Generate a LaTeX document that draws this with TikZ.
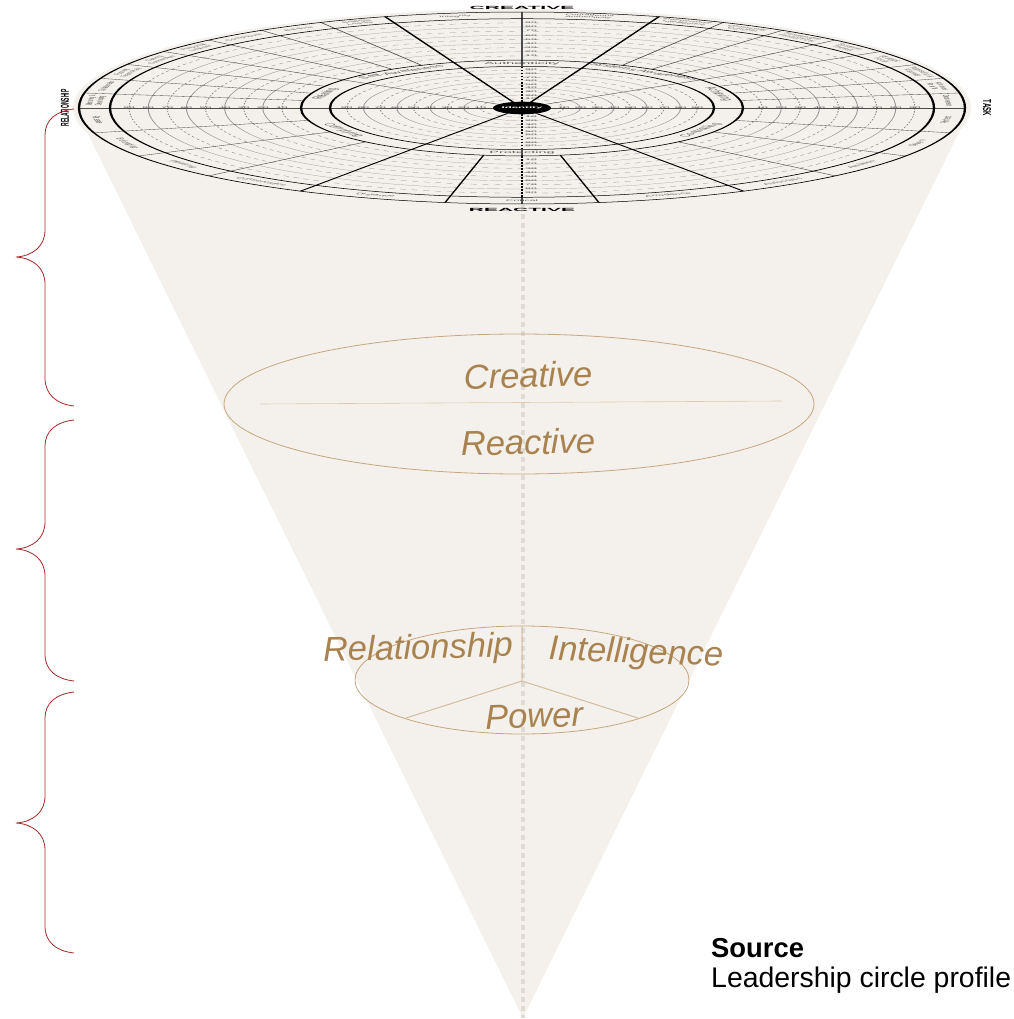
\documentclass[tikz,border=0pt]{standalone}
\usepackage{fontspec}
\usepackage{graphicx}
\setmainfont{Liberation Sans}
\definecolor{conefill}{HTML}{F4F1EC}
\definecolor{dotline}{HTML}{E0DBD2}
\definecolor{tanline}{HTML}{C6A67F}
\definecolor{tantext}{HTML}{A88350}
\definecolor{bracered}{HTML}{A52A2A}
\definecolor{wheelgray}{HTML}{555555}
\newcommand{\bigfont}{\fontsize{34.5}{34.5}\selectfont\itshape}
\tikzset{
    ringmain/.style={draw=black, line width=2.3pt},
    ringsolid/.style={draw=black!42, line width=0.9pt},
    ringdash/.style={draw=black!50, line width=0.9pt, dash pattern=on 6pt off 6pt},
    spokethin/.style={draw=black!70, line width=1.5pt},
    spokemid/.style={draw=black, line width=1.7pt},
    spokethick/.style={draw=black, line width=2.3pt},
    seclabel/.style={text=wheelgray, font=\fontsize{9}{9.5}\selectfont, align=center, inner sep=0pt},
    bandlabel/.style={text=wheelgray, font=\fontsize{14.5}{14.5}\selectfont, inner sep=0pt},
    numlabel/.style={text=black!70, font=\fontsize{10.5}{10.5}\selectfont, inner sep=0pt},
    bigtext/.style={text=tantext, font=\bigfont, inner sep=0pt},
    tanring/.style={draw=tanline, line width=0.8pt},
    redbrace/.style={draw=bracered, line width=0.8pt}
}
\begin{document}
\begin{tikzpicture}[x=1pt, y=-1pt]
    \useasboundingbox (0,0) rectangle (1013,1019);

    % cone and the halo behind the wheel
    \fill[conefill] (86,130) -- (523,1018) -- (960,130) -- cycle;
    \fill[conefill] (522,108) ellipse [x radius=449, y radius=99];
    \draw[dotline, line width=4pt, dash pattern=on 5pt off 4pt] (523,205) -- (523,1018);

    % wheel, drawn as a true circle and squashed as a whole
    \begin{scope}[transform canvas={shift={(522,-108)}, yscale=0.2167}, y=1pt]
        \foreach \n in {1,3,5,7,9} {
            \draw[ringdash] (0,0) circle [radius=25+16.7*\n];
            \draw[ringdash] (0,0) circle [radius=221+19.1*\n];
        }
        \foreach \n in {2,4,6,8} {
            \draw[ringsolid] (0,0) circle [radius=25+16.7*\n];
            \draw[ringsolid] (0,0) circle [radius=221+19.1*\n];
        }
        \foreach \ang in {117,126,135,144,153,162,171,63,54,45,36,27,18,9,195,210,225,315,330,345}
            \draw[spokethin] (\ang:221) -- (\ang:443);
        \foreach \ang in {36,144}
            \draw[spokethin] (\ang:29) -- (\ang:221);
        \foreach \ang in {72,108,240,300}
            \draw[spokethick] (\ang:29) -- (\ang:443);
        \foreach \ang in {260,280}
            \draw[spokemid] (\ang:221) -- (\ang:443);
        \draw[spokethin] (-443,0) -- (443,0);
        \draw[spokethin] (90:221) -- (90:443);
        \draw[spokethin] (270:192) -- (270:221);
        \draw[spokethin] (90:192) -- (90:221);
        \draw[spokethin] (270:412) -- (270:443);
        \foreach \ang in {90,270}
            \draw[black, line width=2.4pt, dash pattern=on 8pt off 6pt] (\ang:29) -- (\ang:192);
        \draw[black, line width=2.4pt, dash pattern=on 8pt off 6pt] (270:221) -- (270:412);

        \foreach \rad in {192,221,412,443}
            \draw[ringmain] (0,0) circle [radius=\rad];
        \fill[black] (0,0) circle [radius=29];
        \node[text=white, font=\fontsize{11.5}{11.5}\selectfont\bfseries, inner sep=0pt] (identity) at (0,0) {Identity};

        % scale numbers
        \foreach \n [evaluate=\n as \ra using 25+16.7*\n/10, evaluate=\n as \rb using 221+19.1*\n/10] in {10,20,...,90} {
            \node[numlabel, anchor=west] (nia\n) at (3,\ra) {\n};
            \node[numlabel, anchor=west] (nib\n) at (3,-\ra) {\n};
            \node[numlabel] (nil\n) at (-\ra,0) {\n};
            \node[numlabel] (nir\n) at (\ra,0) {\n};
            \node[numlabel, anchor=west] (noa\n) at (3,\rb) {\n};
            \node[numlabel, anchor=west] (nob\n) at (3,-\rb) {\n};
            \node[numlabel] (nol\n) at (-\rb,0) {\n};
            \node[numlabel] (nor\n) at (\rb,0) {\n};
        }

        % outer band
        \foreach \ang/\lab [count=\i] in {99/Integrity, 81/Courageous\\Authenticity, 67.5/Interpersonal\\Intelligence,
            58.5/Community\\Concern, 49.5/Sustainable\\Productivity, 40.5/Systems\\Thinker, 31.5/Strategic\\Focus,
            22.5/Purposeful \&\\Visionary, 13.5/Achieves\\Results, 4.5/Decisiveness, 112.5/Selfless\\Leader,
            121.5/Balance, 130.5/Composure, 139.5/Personal\\Learner, 148.5/Caring\\Connection,
            157.5/Fosters\\Team Play, 166.5/Collaborator, 175.5/Mentoring \&\\Developing}
            \node[seclabel, rotate=\ang-90] (secu\i) at (\ang:427.5) {\lab};
        \foreach \ang/\lab [count=\i] in {187.5/Passive, 202.5/Belonging, 217.5/Pleasing, 232.5/Conservative,
            250/Distance, 270/Critical, 290/Arrogance, 307.5/Autocratic, 322.5/Ambition, 337.5/Driven, 352.5/Perfect}
            \node[seclabel, font=\fontsize{10.5}{10.5}\selectfont, rotate=\ang+90] (secl\i) at (\ang:427.5) {\lab};

        % inner band
        \foreach \ang/\lab [count=\i] in {90/Authenticity, 54/Systems Awareness, 18/Achieving, 162/Relating, 126/Self-Awareness}
            \node[bandlabel, rotate=\ang-90] (bandu\i) at (\ang:206.5) {\lab};
        \foreach \ang/\lab [count=\i] in {210/Complying, 270/Protecting, 330/Controlling}
            \node[bandlabel, rotate=\ang+90] (bandl\i) at (\ang:206.5) {\lab};

        \node[font=\fontsize{21}{21}\selectfont\bfseries, inner sep=0pt] (creative) at (0,461) {CREATIVE};
        \node[font=\fontsize{21}{21}\selectfont\bfseries, inner sep=0pt] (reactive) at (0,-472) {REACTIVE};
        \node[font=\bfseries, inner sep=0pt, rotate=90] (relationship) at (-457,0) {\resizebox{170pt}{8pt}{RELATIONSHIP}};
        \node[font=\bfseries, inner sep=0pt, rotate=-90] (task) at (465,0) {\resizebox{74pt}{8pt}{TASK}};
    \end{scope}

    % rings inside the cone
    \draw[tanring] (519,404) ellipse [x radius=295, y radius=70];
    \draw[tanline!60, line width=0.6pt] (260,404) -- (782,401);
    \node[bigtext, rotate=1.5] (creativetxt) at (528,375) {Creative};
    \node[bigtext, rotate=1] (reactivetxt) at (528,442) {Reactive};

    \draw[tanring] (522,680) ellipse [x radius=167, y radius=54];
    \coordinate (hub) at (522,681);
    \draw[tanline!75, line width=1pt] (522,626) -- (hub) -- (406,718);
    \draw[tanline!75, line width=1pt] (hub) -- (638,718);
    \node[bigtext, rotate=1.5] (relationtxt) at (418,650) {Relationship};
    \node[bigtext, rotate=-2] (intelltxt) at (636,654) {Intelligence};
    \node[bigtext, rotate=2] (powertxt) at (534,716) {Power};

    % braces
    \draw[redbrace] (74,109) .. controls (56,111) and (45,120) .. (45,135) -- (45,230)
        .. controls (45,246) and (33,256) .. (16,257) .. controls (33,258) and (45,268) .. (45,284)
        -- (45,378) .. controls (45,394) and (56,404) .. (74,406);
    \draw[redbrace] (74,420) .. controls (56,422) and (45,431) .. (45,446) -- (45,522)
        .. controls (45,538) and (33,548) .. (16,549) .. controls (33,550) and (45,560) .. (45,576)
        -- (45,654) .. controls (45,670) and (56,679) .. (74,681);
    \draw[redbrace] (74,692) .. controls (56,694) and (45,703) .. (45,718) -- (45,796)
        .. controls (45,812) and (33,822) .. (16,823) .. controls (33,824) and (45,834) .. (45,850)
        -- (45,926) .. controls (45,942) and (56,951) .. (74,953);

    \node[anchor=west, inner sep=0pt, font=\fontsize{27.4}{27.4}\selectfont\bfseries] (sourcehead) at (711,948) {Source};
    \node[anchor=west, inner sep=0pt, font=\fontsize{28.4}{28.4}\selectfont] (sourcetxt) at (711,980) {Leadership circle profile};
\end{tikzpicture}
\end{document}
